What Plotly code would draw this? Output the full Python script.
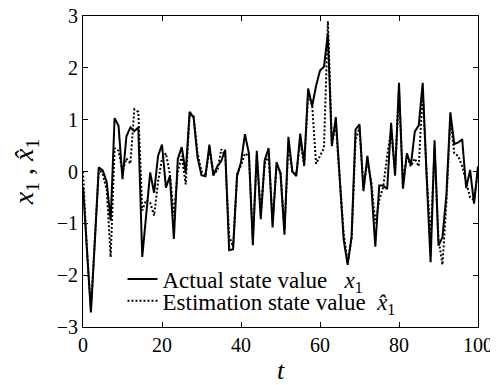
import plotly.graph_objects as go

t = list(range(0, 101))

actual = [-0.3, -1.6, -2.72, -1.35, 0.08, 0.02, -0.2, -0.95, 1.03, 0.88,
          -0.15, 0.68, 0.85, 0.78, 0.85, -1.65, -0.85, -0.02, -0.41, 0.3,
          0.52, -0.31, -0.09, -1.3, 0.24, 0.47, -0.02, 1.15, 1.04, 0.27,
          -0.07, -0.09, 0.52, -0.08, 0.1, 0.2, 0.42, -1.52, -1.5, -0.09,
          0.18, 0.72, 0.35, -1.42, 0.4, -0.92, 0.22, 0.45, -1.08, 0.18,
          -0.04, -1.22, 0.67, 0.0, -0.09, 0.73, 0.14, 1.6, 1.26, 1.65,
          1.95, 2.02, 2.66, 0.49, 1.05, -0.2, -1.32, -1.8, -1.25, 0.81,
          0.91, -0.38, 0.3, -0.28, -1.45, -0.27, -0.27, -0.34, 0.94, -0.08,
          1.71, -0.33, 0.35, 0.12, 0.77, 0.89, 1.71, -0.1, -1.75, 0.6,
          -1.43, -1.27, -0.45, 1.14, 0.53, 0.56, 0.62, -0.32, 0.03, -0.62,
          0.1]

estimate = [0.0, -1.5, -2.65, -1.3, 0.05, -0.05, -0.35, -1.65, 0.45, 0.4,
            0.0, 0.25, 0.15, 1.2, 1.15, -0.75, -0.55, -0.6, -0.85, -0.2,
            0.25, 0.35, -0.05, -0.85, 0.0, 0.3, -0.25, 1.1, 1.08, 0.35,
            0.0, -0.05, 0.4, 0.0, 0.0, 0.43, 0.3, -1.25, -1.45, -0.05,
            0.12, 0.35, 0.3, -1.3, 0.3, -0.8, 0.15, 0.3, -0.95, 0.1,
            0.0, -1.1, 0.5, 0.0, -0.05, 0.6, 0.1, 1.5, 1.3, 0.15,
            0.3, 0.45, 2.9, 0.55, 0.9, -0.1, -1.2, -1.75, -1.3, 0.6,
            0.85, -0.3, 0.2, -0.2, -1.0, -0.55, -0.3, 0.3, 0.8, 0.0,
            1.55, -0.2, 0.3, 0.1, 0.25, 0.1, 1.55, -0.05, -1.3, 0.45,
            -1.3, -1.8, -0.6, 1.0, 0.35, 0.3, 0.1, -0.2, -0.5, -0.55,
            0.0]

x_ticks = [0, 20, 40, 60, 80, 100]
y_ticks = [-3, -2, -1, 0, 1, 2, 3]

FONT = "Liberation Serif"

fig = go.Figure()
fig.add_trace(go.Scatter(
    x=t, y=actual, mode="lines",
    line=dict(color="black", width=2),
    name="Actual state value   <i>x</i><sub>1</sub>", legend="legend"))
fig.add_trace(go.Scatter(
    x=t, y=estimate, mode="lines",
    line=dict(color="black", width=2, dash="2px,2px"),
    name="Estimation state value  <i>x\u0302</i><sub>1</sub>", legend="legend2"))

axis_common = dict(
    showline=True, linecolor="black", linewidth=1, mirror="ticks",
    ticks="inside", ticklen=5, tickcolor="black", tickwidth=1,
    showgrid=False, zeroline=False, automargin=False,
    ticklabeloverflow="allow",
    tickfont=dict(family=FONT, size=20, color="black"),
)

fig.update_xaxes(range=[0, 100], tickvals=x_ticks,
                 title=dict(text="<i>t</i>", font=dict(family=FONT, size=26, color="black"), standoff=6),
                 **axis_common)
fig.update_yaxes(range=[-3, 3], tickvals=y_ticks,
                 title=dict(text="<i>x</i><sub>1</sub> , <i>x\u0302</i><sub>1</sub>",
                            font=dict(family=FONT, size=28, color="black"), standoff=18),
                 **axis_common)

leg_common = dict(xanchor="left", yanchor="middle",
                  bgcolor="rgba(0,0,0,0)", borderwidth=0,
                  font=dict(family=FONT, size=23, color="black"),
                  itemwidth=30)

fig.update_layout(
    width=490, height=377,
    margin=dict(l=75, r=20, t=8, b=58),
    paper_bgcolor="white", plot_bgcolor="white",
    font=dict(family=FONT, color="black"),
    showlegend=True,
    legend=dict(x=0.1, y=0.154, **leg_common),
    legend2=dict(x=0.1, y=0.084, **leg_common),
)

fig.write_html("out.html")
